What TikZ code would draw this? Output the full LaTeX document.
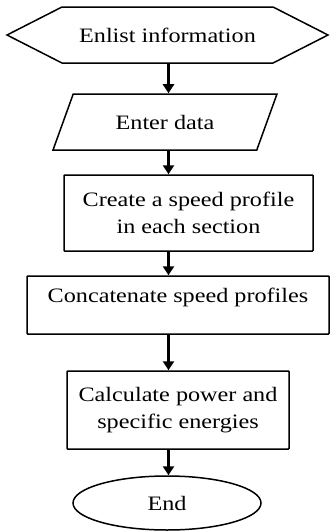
\documentclass[tikz,border=0pt]{standalone}
\usepackage{fontspec}
\setmainfont[FakeStretch=1.18]{Liberation Serif}
\usetikzlibrary{arrows.meta}
\usetikzlibrary{shapes.geometric}
\usetikzlibrary{shapes.symbols}
\tikzset{
flowarrow/.style={-{Triangle[length=9pt,width=11pt]}, line width=2.6pt},
outline/.style={draw, line width=1.5pt, inner sep=0pt, align=center,
	font=\fontsize{20.5}{27}\selectfont},
process/.style={outline, rectangle, rounded corners=0.8pt},
start/.style={outline, signal, signal to=west and east, signal pointer angle=54},
inout/.style={outline, trapezium, trapezium left angle=53, trapezium right angle=127,
	trapezium stretches=true},
stop/.style={outline, ellipse},
}

\begin{document}
\begin{tikzpicture}[x=1pt, y=-1pt]
\useasboundingbox (0,0) rectangle (330,531);
%Place the nodes
\node[start, minimum width=321pt, minimum height=56pt] (info) at (167.5,35) {Enlist information};
\node[inout, minimum width=224pt, minimum height=56pt] (data) at (165,122) {Enter data};
\node[process, minimum width=249pt, minimum height=76pt] (create) at (188.5,213) {Create a speed profile\\in each section};
\node[process, minimum width=302pt, minimum height=58pt, text height=13pt, text depth=18pt] (concat) at (178,305) {Concatenate speed profiles};
\node[process, minimum width=222pt, minimum height=78pt] (power) at (178,410) {Calculate power and\\specific energies};
\node[stop, minimum width=188pt, minimum height=54pt] (end) at (167,503) {End};

%Arrows
\coordinate (ax) at (168.5,0);
\draw[flowarrow] (ax |- info.south) -- (ax |- data.north);
\draw[flowarrow] (ax |- data.south) -- (ax |- create.north);
\draw[flowarrow] (ax |- create.south) -- (ax |- concat.north);
\draw[flowarrow] (ax |- concat.south) -- (ax |- power.north);
\draw[flowarrow] (ax |- power.south) -- (ax |- end.north);
\end{tikzpicture}
\end{document}
